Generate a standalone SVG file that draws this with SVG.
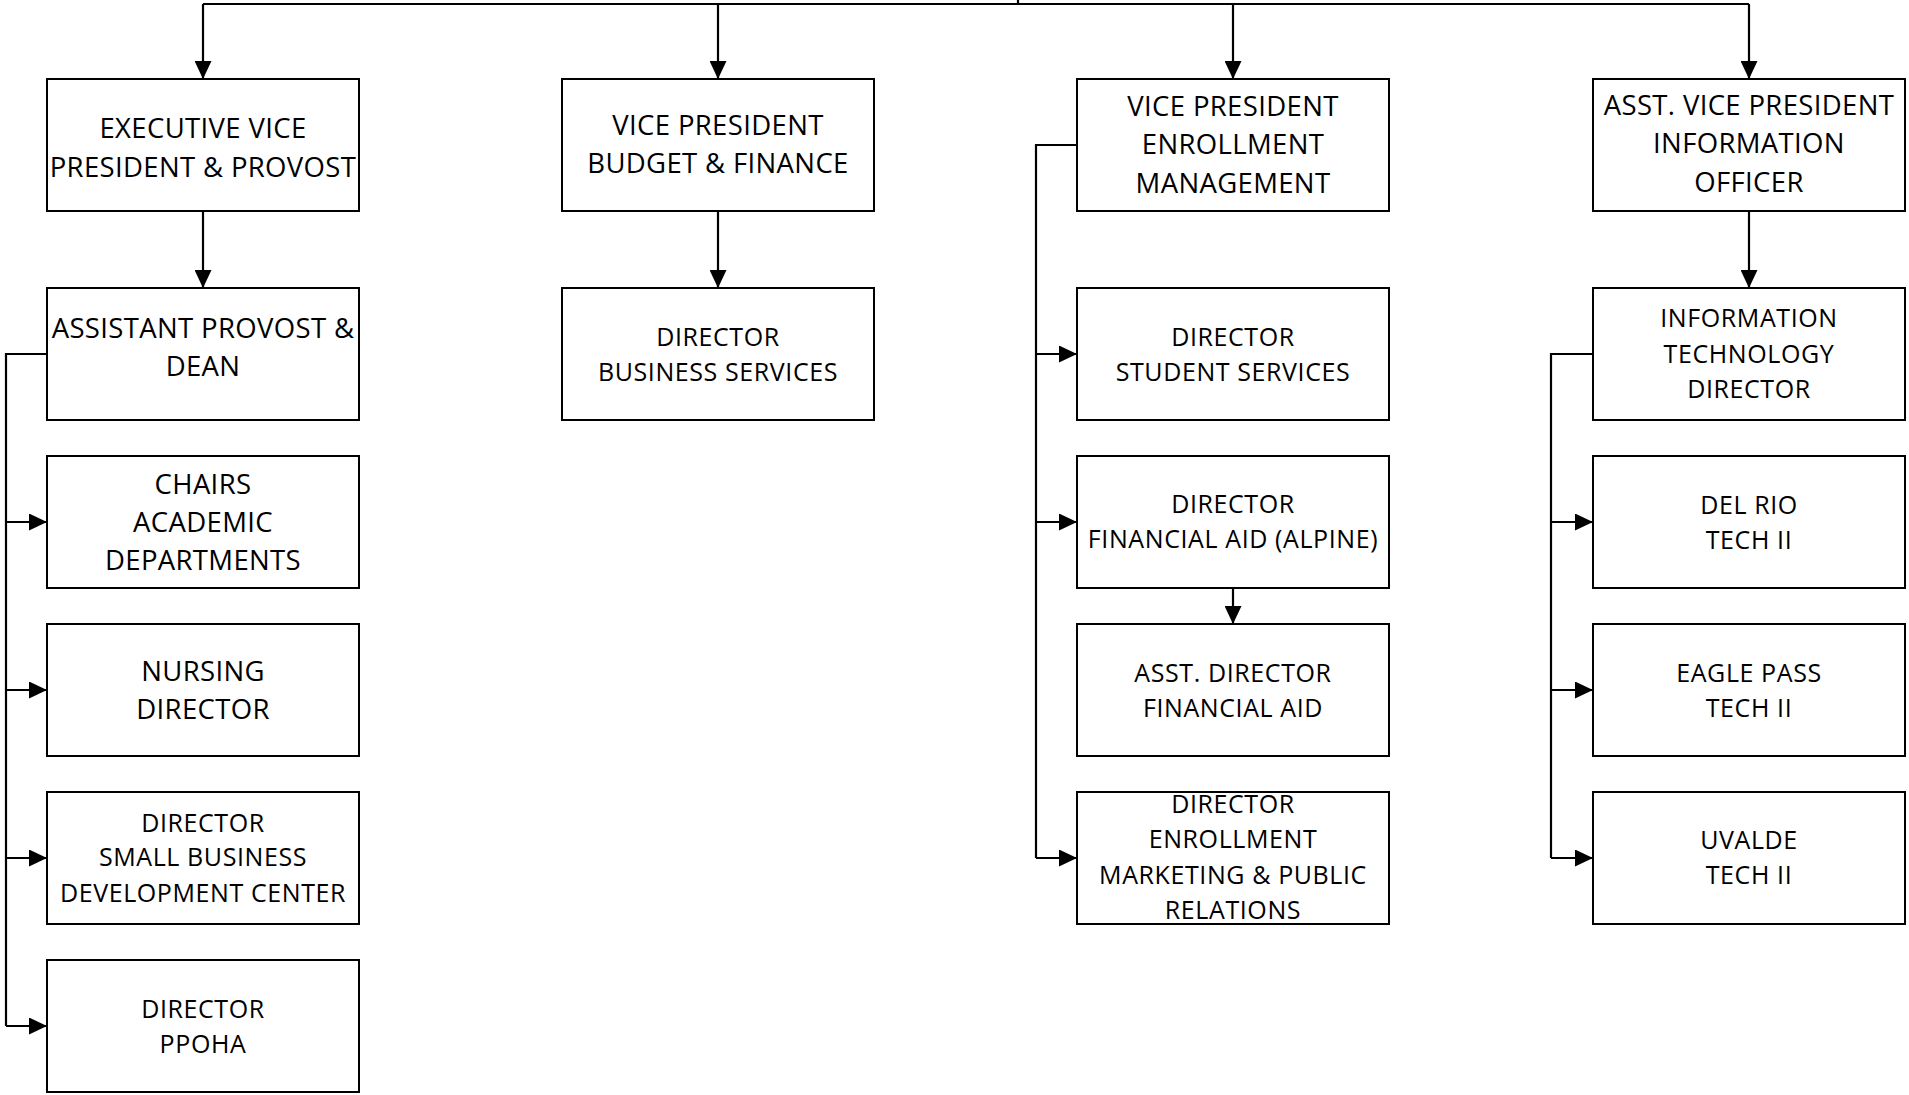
<svg xmlns="http://www.w3.org/2000/svg" width="1909" height="1095" viewBox="0 0 1909 1095">
<style>
.box{fill:#fff;stroke:#000;stroke-width:2}
.c{fill:none;stroke:#000;stroke-width:2.2}
text{font-family:"Open Sans","Liberation Sans",sans-serif;fill:#000;text-anchor:middle}
.L{font-size:27.5px;letter-spacing:0.35px}
.S{font-size:25px;letter-spacing:0.6px}
</style>
<defs>
<marker id="ah" markerUnits="userSpaceOnUse" markerWidth="18" markerHeight="17" viewBox="0 0 18 17" refX="18" refY="8.5" orient="auto"><path d="M0,0 L18,8.5 L0,17 z" fill="#000"/></marker>
</defs>
<rect width="1909" height="1095" fill="#fff"/>
<g id="connectors">
<path class="c" d="M1018,0 V4 M203,4 H1749"/>
<path class="c" marker-end="url(#ah)" d="M203,4 V79"/>
<path class="c" marker-end="url(#ah)" d="M718,4 V79"/>
<path class="c" marker-end="url(#ah)" d="M1233,4 V79"/>
<path class="c" marker-end="url(#ah)" d="M1749,4 V79"/>
<path class="c" marker-end="url(#ah)" d="M203,211 V288"/>
<path class="c" marker-end="url(#ah)" d="M718,211 V288"/>
<path class="c" marker-end="url(#ah)" d="M1749,211 V288"/>
<path class="c" marker-end="url(#ah)" d="M1233,588 V624"/>
<path class="c" d="M47,354 H6 V1026"/>
<path class="c" marker-end="url(#ah)" d="M6,522 H47"/>
<path class="c" marker-end="url(#ah)" d="M6,690 H47"/>
<path class="c" marker-end="url(#ah)" d="M6,858 H47"/>
<path class="c" marker-end="url(#ah)" d="M6,1026 H47"/>
<path class="c" d="M1077,145 H1036 V858"/>
<path class="c" marker-end="url(#ah)" d="M1036,354 H1077"/>
<path class="c" marker-end="url(#ah)" d="M1036,522 H1077"/>
<path class="c" marker-end="url(#ah)" d="M1036,858 H1077"/>
<path class="c" d="M1593,354 H1551 V858"/>
<path class="c" marker-end="url(#ah)" d="M1551,522 H1593"/>
<path class="c" marker-end="url(#ah)" d="M1551,690 H1593"/>
<path class="c" marker-end="url(#ah)" d="M1551,858 H1593"/>
</g>
<g id="evp"><rect class="box" x="47" y="79" width="312" height="132"/><text class="L" x="203" y="138">EXECUTIVE VICE</text><text class="L" x="203" y="177">PRESIDENT &amp; PROVOST</text></g>
<g id="apd"><rect class="box" x="47" y="288" width="312" height="132"/><text class="L" x="203" y="338">ASSISTANT PROVOST &amp;</text><text class="L" x="203" y="376">DEAN</text></g>
<g id="chairs"><rect class="box" x="47" y="456" width="312" height="132"/><text class="L" x="203" y="494">CHAIRS</text><text class="L" x="203" y="532">ACADEMIC</text><text class="L" x="203" y="570">DEPARTMENTS</text></g>
<g id="nursing"><rect class="box" x="47" y="624" width="312" height="132"/><text class="L" x="203" y="681">NURSING</text><text class="L" x="203" y="719">DIRECTOR</text></g>
<g id="sbdc"><rect class="box" x="47" y="792" width="312" height="132"/><text class="S" x="203" y="832">DIRECTOR</text><text class="S" x="203" y="866">SMALL BUSINESS</text><text class="S" x="203" y="902">DEVELOPMENT CENTER</text></g>
<g id="ppoha"><rect class="box" x="47" y="960" width="312" height="132"/><text class="S" x="203" y="1018">DIRECTOR</text><text class="S" x="203" y="1053">PPOHA</text></g>
<g id="vpbf"><rect class="box" x="562" y="79" width="312" height="132"/><text class="L" x="718" y="135">VICE PRESIDENT</text><text class="L" x="718" y="173">BUDGET &amp; FINANCE</text></g>
<g id="dbs"><rect class="box" x="562" y="288" width="312" height="132"/><text class="S" x="718" y="346">DIRECTOR</text><text class="S" x="718" y="381">BUSINESS SERVICES</text></g>
<g id="vpem"><rect class="box" x="1077" y="79" width="312" height="132"/><text class="L" x="1233" y="116">VICE PRESIDENT</text><text class="L" x="1233" y="154">ENROLLMENT</text><text class="L" x="1233" y="193">MANAGEMENT</text></g>
<g id="dss"><rect class="box" x="1077" y="288" width="312" height="132"/><text class="S" x="1233" y="346">DIRECTOR</text><text class="S" x="1233" y="381">STUDENT SERVICES</text></g>
<g id="dfa"><rect class="box" x="1077" y="456" width="312" height="132"/><text class="S" x="1233" y="513">DIRECTOR</text><text class="S" x="1233" y="548">FINANCIAL AID (ALPINE)</text></g>
<g id="adfa"><rect class="box" x="1077" y="624" width="312" height="132"/><text class="S" x="1233" y="682">ASST. DIRECTOR</text><text class="S" x="1233" y="717">FINANCIAL AID</text></g>
<g id="dem"><rect class="box" x="1077" y="792" width="312" height="132"/><text class="S" x="1233" y="813">DIRECTOR</text><text class="S" x="1233" y="848">ENROLLMENT</text><text class="S" x="1233" y="884">MARKETING &amp; PUBLIC</text><text class="S" x="1233" y="919">RELATIONS</text></g>
<g id="avpio"><rect class="box" x="1593" y="79" width="312" height="132"/><text class="L" x="1749" y="115">ASST. VICE PRESIDENT</text><text class="L" x="1749" y="153">INFORMATION</text><text class="L" x="1749" y="192">OFFICER</text></g>
<g id="itd"><rect class="box" x="1593" y="288" width="312" height="132"/><text class="S" x="1749" y="327">INFORMATION</text><text class="S" x="1749" y="363">TECHNOLOGY</text><text class="S" x="1749" y="398">DIRECTOR</text></g>
<g id="delrio"><rect class="box" x="1593" y="456" width="312" height="132"/><text class="S" x="1749" y="514">DEL RIO</text><text class="S" x="1749" y="549">TECH II</text></g>
<g id="eaglepass"><rect class="box" x="1593" y="624" width="312" height="132"/><text class="S" x="1749" y="682">EAGLE PASS</text><text class="S" x="1749" y="717">TECH II</text></g>
<g id="uvalde"><rect class="box" x="1593" y="792" width="312" height="132"/><text class="S" x="1749" y="849">UVALDE</text><text class="S" x="1749" y="884">TECH II</text></g>
</svg>
